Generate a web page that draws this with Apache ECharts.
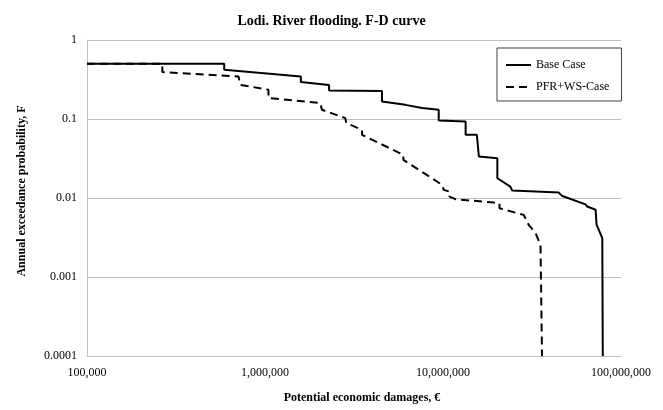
<!DOCTYPE html>
<html>
<head>
<meta charset="utf-8">
<script src="https://cdn.jsdelivr.net/npm/echarts@6/dist/echarts.min.js"></script>
<style>
  html, body { margin: 0; padding: 0; background: #fff; }
  #chart { width: 663px; height: 410px; }
</style>
</head>
<body>
<div id="chart"></div>
<script>
// F-D curve: damages (EUR) vs annual exceedance probability
const baseDamage = [100000, 590000, 590000, 1590000, 1590000, 2290000, 2290000, 4540000, 4540000, 6140000, 6280000, 7630000, 7790000, 9460000, 9460000, 13400000, 13400000, 15500000, 15900000, 20200000, 20200000, 23900000, 24500000, 44700000, 46800000, 63200000, 64600000, 72000000, 72900000, 78500000, 79000000];
const baseProb = [0.5, 0.5, 0.42, 0.346, 0.294, 0.269, 0.23, 0.226, 0.167, 0.151, 0.144, 0.1375, 0.131, 0.131, 0.0957, 0.0929, 0.0631, 0.0631, 0.0335, 0.0319, 0.0178, 0.0139, 0.0124, 0.0117, 0.0106, 0.0083, 0.0078, 0.0071, 0.0046, 0.0031, 0.0001];

const pfrDamage = [100000, 265000, 265000, 710000, 725000, 1046000, 1046000, 2044000, 2089000, 2825000, 2862000, 3508000, 3508000, 5630000, 5990000, 5990000, 9890000, 10090000, 10870000, 10870000, 11740000, 19290000, 20760000, 20760000, 28400000, 30300000, 33100000, 35300000, 36000000];
const pfrProb = [0.5, 0.5, 0.393, 0.346, 0.271, 0.2345, 0.184, 0.159, 0.131, 0.1026, 0.0887, 0.073, 0.0631, 0.0376, 0.0352, 0.0304, 0.01466, 0.01267, 0.01206, 0.01042, 0.00966, 0.00874, 0.00859, 0.00743, 0.00611, 0.00456, 0.00361, 0.00254, 0.0001];

const seriesNames = ['Base Case', 'PFR+WS-Case'];
const xRange = [100000, 100000000];
const yRange = [0.0001, 1];

const FONT = '"Liberation Serif", "Times New Roman", serif';
const GRID_GRAY = '#bfbfbf';

function pairs(xs, ys) {
  return xs.map((x, i) => [x, ys[i]]);
}

const chart = echarts.init(document.getElementById('chart'), null, { renderer: 'canvas' });

chart.setOption({
  backgroundColor: '#ffffff',
  animation: false,
  title: {
    text: 'Lodi. River flooding. F-D curve',
    left: 'center',
    top: 9,
    textStyle: { fontFamily: FONT, fontSize: 14, fontWeight: 'bold', color: '#000' }
  },
  grid: { left: 87, right: 42, top: 40, bottom: 54, containLabel: false },
  legend: {
    orient: 'vertical',
    left: 497,
    top: 48,
    padding: [11, 12, 8, 8],
    itemWidth: 25,
    itemHeight: 14,
    itemGap: 10,
    borderColor: '#404040',
    borderWidth: 1,
    itemStyle: { opacity: 0 },
    textStyle: { fontFamily: FONT, fontSize: 12, color: '#000' },
    data: seriesNames
  },
  xAxis: {
    type: 'log',
    logBase: 10,
    min: xRange[0],
    max: xRange[1],
    axisLine: { show: true, lineStyle: { color: GRID_GRAY, width: 1 } },
    axisTick: { show: false },
    splitLine: { show: false },
    axisLabel: {
      margin: 11,
      fontFamily: FONT, fontSize: 12, color: '#000',
      formatter: v => Math.round(v).toLocaleString('en-US')
    }
  },
  yAxis: {
    type: 'log',
    logBase: 10,
    min: yRange[0],
    max: yRange[1],
    axisLine: { show: true, lineStyle: { color: GRID_GRAY, width: 1 } },
    axisTick: { show: false },
    splitLine: { show: true, lineStyle: { color: GRID_GRAY, width: 1 } },
    axisLabel: {
      margin: 10,
      fontFamily: FONT, fontSize: 12, color: '#000',
      formatter: v => String(Number(v.toPrecision(1)))
    }
  },
  graphic: [
    {
      type: 'text',
      x: 362, y: 398,
      style: {
        text: 'Potential economic damages, €',
        font: 'bold 12px ' + FONT,
        fill: '#000',
        align: 'center',
        verticalAlign: 'middle'
      }
    },
    {
      type: 'text',
      x: 22, y: 191,
      rotation: Math.PI / 2,
      style: {
        text: 'Annual exceedance probability, F',
        font: 'bold 12px ' + FONT,
        fill: '#000',
        align: 'center',
        verticalAlign: 'middle'
      }
    }
  ],
  series: [
    {
      name: seriesNames[0],
      type: 'line',
      symbol: 'none',
      data: pairs(baseDamage, baseProb),
      lineStyle: { color: '#000', width: 2 },
      itemStyle: { color: '#000' },
      z: 3
    },
    {
      name: seriesNames[1],
      type: 'line',
      symbol: 'none',
      data: pairs(pfrDamage, pfrProb),
      lineStyle: { color: '#000', width: 2, type: [8, 5] },
      itemStyle: { color: '#000' },
      z: 3
    }
  ]
});
</script>
</body>
</html>
